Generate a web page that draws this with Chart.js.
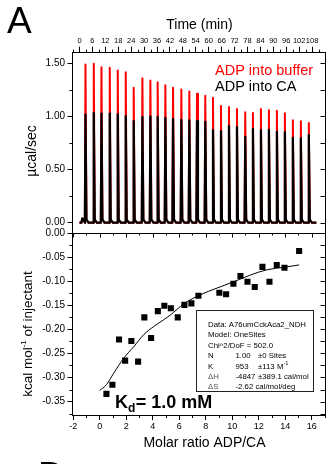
<!DOCTYPE html>
<html><head><meta charset="utf-8">
<script src="https://cdn.jsdelivr.net/npm/chart.js@4/dist/chart.umd.min.js"></script>
<style>
html,body{margin:0;padding:0;background:#fff;width:326px;height:464px;overflow:hidden;position:relative}
canvas{position:absolute;left:0}
#top{top:0}
#bot{top:226px}
</style></head><body>
<canvas id="top" width="326" height="233"></canvas>
<canvas id="bot" width="326" height="238"></canvas>
<script>
// ---------- data ----------
const injTimes = [1.25, 2.78, 6.63, 10.2, 14.05, 17.76, 21.47, 25.17, 29.21, 32.92, 36.3, 39.87, 43.44, 47.29, 51.0, 54.57, 58.41, 61.98, 65.69, 69.4, 73.11, 76.96, 80.53, 84.24, 87.95, 91.66, 95.36, 99.07, 102.78, 106.49];
const peakBuffer = [0.04, 1.487, 1.494, 1.462, 1.456, 1.431, 1.415, 1.269, 1.358, 1.337, 1.320, 1.293, 1.269, 1.253, 1.234, 1.213, 1.194, 1.175, 1.097, 1.087, 1.068, 1.038, 1.031, 1.068, 1.056, 1.053, 1.028, 0.963, 0.953, 0.937];
const peakCA = [0.04, 1.016, 1.031, 1.025, 1.025, 1.019, 1.003, 0.956, 0.993, 1.000, 0.995, 0.986, 0.974, 0.967, 0.961, 0.955, 0.948, 0.870, 0.861, 0.908, 0.898, 0.808, 0.880, 0.870, 0.873, 0.854, 0.852, 0.798, 0.792, 0.823];
const runStart = 0, runEnd = 110;

const molarRatio = [0.51, 0.96, 1.46, 1.92, 2.39, 2.90, 3.37, 3.88, 4.39, 4.88, 5.37, 5.89, 6.39, 6.92, 7.45, 9.03, 9.54, 10.09, 10.62, 11.15, 11.70, 12.28, 12.81, 13.36, 13.94, 15.05];
const heatInj = [-0.334, -0.315, -0.221, -0.265, -0.224, -0.267, -0.175, -0.218, -0.162, -0.151, -0.156, -0.175, -0.149, -0.146, -0.130, -0.124, -0.127, -0.105, -0.089, -0.101, -0.112, -0.070, -0.101, -0.066, -0.072, -0.037];
const fitRatio = [0, 0.51, 1.06, 1.81, 2.57, 3.32, 4.08, 4.83, 5.34, 6.34, 7.60, 8.86, 10.11, 11.37, 12.63, 13.89, 15.05];
const fitHeat = [-0.327, -0.315, -0.291, -0.260, -0.236, -0.211, -0.194, -0.180, -0.170, -0.147, -0.128, -0.114, -0.101, -0.087, -0.076, -0.071, -0.066];

const timeTicks = [0, 6, 12, 18, 24, 30, 36, 42, 48, 54, 60, 66, 72, 78, 84, 90, 96, 102, 108];
const rateTicks = [0, 0.5, 1.0, 1.5];
const ratioTicks = [-2, 0, 2, 4, 6, 8, 10, 12, 14, 16];
const heatTicks = [-0.35, -0.30, -0.25, -0.20, -0.15, -0.10, -0.05, 0.00];

const fitText = ["Data: A76umCckAca2_NDH", "Model: OneSites", "Chi^2/DoF = 502.0"];
const fitParams = [["N", "1.00", "±0 Sites"], ["K", "953", "±113 M"], ["ΔH", "-4847", "±389.1 cal/mol"], ["ΔS", "-2.62 cal/mol/deg", ""]];

// ---------- helpers ----------
const FF = "'Liberation Sans', Arial, sans-serif";
const OFF = 226; // page y of the lower canvas
function thermogram(heights) {
  const pts = [{x: runStart, y: 0}];
  injTimes.forEach((t, i) => {
    pts.push({x: t - 0.3, y: 0}, {x: t, y: heights[i]}, {x: t + 0.45, y: 0.03}, {x: t + 1.4, y: 0});
  });
  pts.push({x: runEnd, y: 0});
  return pts;
}
function setTicks(arr) { return s => { s.ticks = arr.map(v => ({value: v})); }; }
function fitX(h) { return s => { s.height = h; s.paddingLeft = 0; s.paddingRight = 0; }; }
function fitY(w) { return s => { s.width = w; s.paddingTop = 0; s.paddingBottom = 0; }; }
function seg(ctx, x1, y1, x2, y2) { ctx.beginPath(); ctx.moveTo(x1, y1); ctx.lineTo(x2, y2); ctx.stroke(); }
function txt(ctx, s, x, y, font, align, base, color) {
  ctx.font = font; ctx.textAlign = align || 'left'; ctx.textBaseline = base || 'alphabetic';
  ctx.fillStyle = color || '#000'; ctx.fillText(s, x, y);
}
const gridOpts = {drawOnChartArea: false, drawTicks: true, tickLength: 5, color: '#000', tickColor: '#000', lineWidth: 1};

// ---------- top panel ----------
const topDecor = {
  id: 'topDecor',
  afterDraw(chart) {
    const {ctx, chartArea: a, scales: {x, y}} = chart;
    ctx.save();
    ctx.strokeStyle = '#000'; ctx.lineWidth = 1;
    const R = a.right + 0.5;
    seg(ctx, R, a.top, R, a.bottom);
    for (let t = -3; t <= 114; t += 6) { const px = Math.round(x.getPixelForValue(t)) + 0.5; seg(ctx, px, a.top, px, a.top - 3); }
    for (let v = 0.25; v < 1.6; v += 0.5) { const py = Math.round(y.getPixelForValue(v)) + 0.5; seg(ctx, a.left, py, a.left - 3, py); }
    for (let v = 0; v <= 1.5001; v += 0.25) { const py = Math.round(y.getPixelForValue(v)) + 0.5; seg(ctx, R, py, R - 5, py); }
    txt(ctx, 'A', 7, 33, '37px ' + FF);
    txt(ctx, 'Time (min)', 199.5, 29, '14px ' + FF, 'center');
    txt(ctx, 'ADP into buffer', 215, 71, '14.5px ' + FF, 'left', 'middle', '#ff0000');
    txt(ctx, 'ADP into CA', 215, 86.5, '14.5px ' + FF, 'left', 'middle', '#000');
    ctx.translate(32, 151); ctx.rotate(-Math.PI / 2);
    txt(ctx, 'µcal/sec', 0, 0, '14px ' + FF, 'center', 'middle');
    ctx.restore();
  }
};
new Chart(document.getElementById('top'), {
  type: 'line',
  data: {datasets: [
    {label: 'ADP into CA', data: thermogram(peakCA), borderColor: '#000', borderWidth: 2.2, pointRadius: 0, tension: 0, borderJoinStyle: 'round'},
    {label: 'ADP into buffer', data: thermogram(peakBuffer), borderColor: '#ff0000', borderWidth: 2, pointRadius: 0, tension: 0, borderJoinStyle: 'round'}
  ]},
  options: {
    responsive: false, animation: false, devicePixelRatio: 1,
    layout: {autoPadding: false, padding: {left: 0, right: 1, top: 0, bottom: 0}},
    plugins: {legend: {display: false}, tooltip: {enabled: false}},
    scales: {
      x: {type: 'linear', position: 'top', min: -3.25, max: 114.0,
          afterBuildTicks: setTicks(timeTicks), afterFit: fitX(52.7),
          ticks: {font: {family: FF, size: 7.5}, color: '#000', padding: 1.5, autoSkip: false, maxRotation: 0, callback: v => String(v)},
          grid: Object.assign({}, gridOpts, {tickLength: 6}), border: {display: true, color: '#000', width: 1}},
      y: {type: 'linear', position: 'left', min: -0.097, max: 1.598,
          afterBuildTicks: setTicks(rateTicks), afterFit: fitY(72.5),
          ticks: {font: {family: FF, size: 10}, color: '#000', padding: 2.5, autoSkip: false, callback: v => v.toFixed(2)},
          grid: gridOpts, border: {display: true, color: '#000', width: 1}}
    }
  },
  plugins: [topDecor]
});

// ---------- bottom panel ----------
const botDecor = {
  id: 'botDecor',
  afterDraw(chart) {
    const {ctx, chartArea: a, scales: {x, y}} = chart;
    ctx.save();
    ctx.strokeStyle = '#000'; ctx.lineWidth = 1;
    const R = a.right + 0.5, T = Math.round(a.top) + 0.5;
    seg(ctx, R, a.top, R, a.bottom + 1);
    seg(ctx, a.left, T, a.right + 1, T);
    for (let r = -2; r <= 17; r += 1) {
      const px = Math.round(x.getPixelForValue(r)) + 0.5;
      seg(ctx, px, T, px, T + (r % 2 === 0 ? 4 : 2));
      if (r % 2 !== 0) seg(ctx, px, a.bottom, px, a.bottom + 3);
    }
    for (let v = -0.375; v < 0; v += 0.05) { const py = Math.round(y.getPixelForValue(v)) + 0.5; seg(ctx, a.left, py, a.left - 3, py); }
    for (let v = -0.375; v <= 0.0001; v += 0.025) { const py = Math.round(y.getPixelForValue(v)) + 0.5; seg(ctx, R, py, R - 5, py); }
    // everything below uses page coordinates
    ctx.translate(0, -OFF);
    ctx.strokeStyle = '#222';
    ctx.strokeRect(196.5, 310.5, 117, 81);
    const f = '7.8px ' + FF;
    fitText.forEach((s, i) => txt(ctx, s, 208, 325 + i * 10.3, f, 'left', 'middle'));
    fitParams.forEach((p, i) => {
      const yy = 356 + i * 10.4;
      txt(ctx, p[0], 208, yy, f, 'left', 'middle', i >= 2 ? '#555' : '#000');
      txt(ctx, p[1], 235.5, yy, f, 'left', 'middle');
      if (p[2]) txt(ctx, p[2], 258, yy, f, 'left', 'middle');
      if (i === 1) { ctx.font = f; const w = ctx.measureText(p[2]).width; txt(ctx, '-1', 258 + w + 0.5, yy - 3, '5px ' + FF, 'left', 'middle'); }
    });
    // Kd
    ctx.font = 'bold 18px ' + FF;
    txt(ctx, 'K', 115, 408, 'bold 18px ' + FF);
    const wk = ctx.measureText('K').width;
    txt(ctx, 'd', 115 + wk, 412, 'bold 12px ' + FF);
    ctx.font = 'bold 12px ' + FF; const wd = ctx.measureText('d').width;
    txt(ctx, '= 1.0 mM', 115 + wk + wd + 0.5, 408, 'bold 18px ' + FF);
    // axis titles
    txt(ctx, 'Molar ratio ADP/CA', 204.5, 447, '14px ' + FF, 'center');
    txt(ctx, 'B', 38, 487.5, '37px ' + FF);
    ctx.translate(28, 334); ctx.rotate(-Math.PI / 2);
    const f1 = '13.5px ' + FF, f2 = '8px ' + FF;
    ctx.font = f1; const w1 = ctx.measureText('kcal mol').width, w3 = ctx.measureText(' of injectant').width;
    ctx.font = f2; const w2 = ctx.measureText('-1').width;
    let sx = -(w1 + w2 + w3) / 2;
    txt(ctx, 'kcal mol', sx, 0, f1, 'left', 'middle'); sx += w1;
    txt(ctx, '-1', sx, -4, f2, 'left', 'middle'); sx += w2;
    txt(ctx, ' of injectant', sx, 0, f1, 'left', 'middle');
    ctx.restore();
  }
};
new Chart(document.getElementById('bot'), {
  type: 'scatter',
  data: {datasets: [
    {label: 'data', data: molarRatio.map((r, i) => ({x: r, y: heatInj[i]})), pointStyle: 'rect', pointRadius: 4.3, backgroundColor: '#000', borderColor: '#000', borderWidth: 0},
    {label: 'fit', data: fitRatio.map((r, i) => ({x: r, y: fitHeat[i]})), showLine: true, borderColor: '#000', borderWidth: 1, pointRadius: 0, cubicInterpolationMode: 'monotone'}
  ]},
  options: {
    responsive: false, animation: false, devicePixelRatio: 1,
    layout: {autoPadding: false, padding: {left: 0, right: 1, top: 233 - OFF, bottom: 0}},
    plugins: {legend: {display: false}, tooltip: {enabled: false}},
    scales: {
      x: {type: 'linear', position: 'bottom', min: -2.05, max: 17.0,
          afterBuildTicks: setTicks(ratioTicks), afterFit: fitX(49),
          ticks: {font: {family: FF, size: 9}, color: '#000', padding: 1.6, autoSkip: false, maxRotation: 0, callback: v => String(v)},
          grid: gridOpts, border: {display: true, color: '#000', width: 1}},
      y: {type: 'linear', position: 'left', min: -0.378, max: 0.0004,
          afterBuildTicks: setTicks(heatTicks), afterFit: fitY(72.5),
          ticks: {font: {family: FF, size: 10}, color: '#000', padding: 2.5, autoSkip: false, callback: v => v.toFixed(2)},
          grid: gridOpts, border: {display: true, color: '#000', width: 1}}
    }
  },
  plugins: [botDecor]
});
</script>
</body></html>
